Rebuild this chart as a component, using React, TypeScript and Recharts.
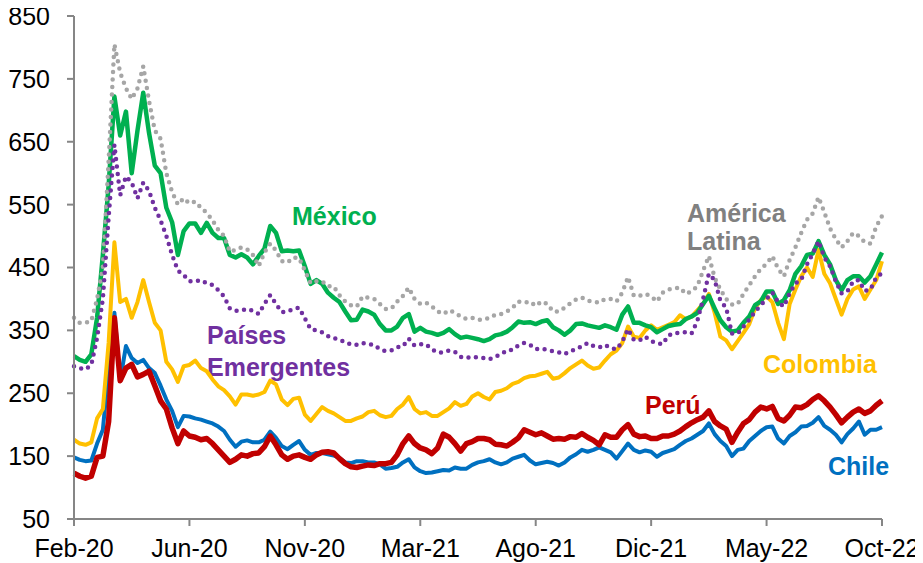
import React from "react";
import { LineChart, Line, XAxis, YAxis } from "recharts";

const xTickLabels = ["Feb-20", "Jun-20", "Nov-20", "Mar-21", "Ago-21", "Dic-21", "May-22", "Oct-22"];
const yTicks = [50, 150, 250, 350, 450, 550, 650, 750, 850];

const chile = [148,144,142,143,170,192,290,378,270,325,306,298,303,290,282,262,240,222,196,214,213,210,208,205,202,197,190,176,165,173,175,172,172,176,189,179,166,161,168,174,160,152,155,155,153,151,147,140,139,142,142,140,140,137,130,131,133,140,145,132,126,123,124,126,128,127,132,130,130,136,140,142,145,140,137,140,146,149,152,143,137,139,141,139,135,140,148,153,160,157,160,164,160,156,146,158,170,160,156,159,157,149,155,158,161,168,174,178,184,190,202,185,174,166,150,160,162,174,182,190,196,197,178,170,182,188,197,198,203,212,198,192,184,172,185,194,205,184,192,192,196];

const peru = [123,118,115,118,148,150,205,370,270,290,296,276,280,285,262,238,225,195,170,190,182,180,176,178,170,160,150,140,145,152,150,154,155,165,182,168,152,145,150,152,148,145,152,156,157,155,146,138,133,132,134,136,135,138,138,140,152,170,182,170,163,160,154,163,185,180,170,158,170,173,178,178,176,169,168,166,172,179,192,188,184,187,182,177,178,177,181,180,186,180,175,168,184,180,180,192,200,185,181,182,178,178,182,182,185,190,197,203,208,212,222,205,198,193,172,188,202,208,220,228,225,229,210,206,215,228,227,232,240,246,238,228,216,203,212,220,225,218,222,231,238];

const colombia = [176,170,168,172,210,225,330,490,395,400,370,395,430,395,362,350,300,288,268,293,295,302,290,285,272,261,255,245,232,248,248,246,248,252,270,264,240,231,241,243,216,206,217,228,222,218,212,206,206,210,213,220,222,215,212,214,225,232,244,225,218,220,214,214,220,226,236,230,233,245,250,244,240,252,254,258,265,268,274,277,278,281,284,273,275,282,290,296,302,294,289,291,302,312,318,330,356,340,338,350,358,351,355,359,363,374,368,372,382,392,408,378,340,334,320,333,346,360,385,398,404,395,362,336,392,415,436,450,435,478,440,425,400,375,400,415,420,400,415,430,460];

const mexico = [309,303,300,312,370,470,580,722,660,698,600,668,728,664,612,600,545,522,470,508,520,520,505,521,505,497,497,470,466,471,466,455,468,480,516,505,476,477,476,477,452,424,430,424,410,402,395,380,366,367,383,380,375,360,350,350,356,370,376,348,354,348,346,343,346,352,344,338,340,338,336,333,336,342,344,348,355,364,362,363,360,364,366,355,350,343,350,360,361,358,356,354,358,355,351,375,388,362,362,358,355,347,352,357,359,360,368,372,378,392,405,385,366,355,348,350,362,372,390,396,412,412,392,398,414,440,452,470,472,492,470,455,430,414,430,436,436,426,436,455,474];

const americaLatina = [370,362,362,365,400,450,620,805,760,735,718,735,770,715,668,655,600,570,550,560,552,555,545,537,525,510,500,475,478,482,479,470,452,474,488,477,460,458,466,465,445,425,428,428,420,420,406,396,390,388,404,402,400,392,384,385,396,405,418,400,392,394,388,380,376,382,378,372,368,370,367,367,370,375,376,380,386,396,394,396,389,396,392,380,380,386,393,399,402,397,396,394,400,400,396,410,435,405,405,408,404,396,410,415,417,418,408,412,420,445,468,434,415,400,391,392,408,422,436,448,456,468,448,436,462,482,505,526,536,562,538,512,495,482,492,505,500,490,488,515,532];

const emergentes = [293,290,288,295,338,400,530,645,565,595,585,560,585,572,545,525,500,470,445,438,428,428,430,425,422,414,404,385,381,382,384,381,376,392,406,392,379,380,384,386,369,352,350,347,341,338,334,332,327,327,330,328,327,320,317,318,323,325,337,326,328,328,320,315,315,318,316,308,306,308,307,306,304,308,312,318,319,326,330,327,320,321,319,317,315,312,317,320,325,330,325,323,327,322,320,332,352,335,334,340,333,330,328,342,346,346,347,345,365,400,440,430,397,386,345,345,356,367,380,390,400,410,395,388,409,425,430,455,472,492,466,452,428,409,412,428,430,413,415,434,441];

const rows = chile.map((v, i) => ({
  i,
  chile: v,
  peru: peru[i],
  colombia: colombia[i],
  mexico: mexico[i],
  americaLatina: americaLatina[i],
  emergentes: emergentes[i],
}));

const xTicks = xTickLabels.map((_, k) => k * 20);
const FONT = "'Liberation Sans', Arial, sans-serif";
const AXIS = "#868686";

export default function App() {
  return (
    <div style={{ width: 923, height: 563, margin: "-8px 0 0 -8px" }}>
      <LineChart
        width={923}
        height={563}
        data={rows}
        margin={{ top: 16, right: 41, bottom: 0, left: 8 }}
        style={{ fontFamily: FONT }}
      >
        <XAxis
          dataKey="i"
          type="number"
          domain={[0, 140]}
          ticks={xTicks}
          interval={0}
          tickFormatter={(v: number) => xTickLabels[Math.round(v / 20)]}
          height={44}
          tickSize={7}
          tickMargin={13}
          axisLine={{ stroke: AXIS, strokeWidth: 2 }}
          tickLine={{ stroke: AXIS, strokeWidth: 2 }}
          tick={{ fill: "#000", fontSize: 25, fontFamily: FONT }}
        />
        <YAxis
          domain={[50, 850]}
          ticks={yTicks}
          interval={0}
          width={66}
          tickSize={7}
          tickMargin={17}
          axisLine={{ stroke: AXIS, strokeWidth: 2 }}
          tickLine={{ stroke: AXIS, strokeWidth: 2 }}
          tick={{ fill: "#000", fontSize: 25, fontFamily: FONT }}
        />
        <Line dataKey="chile" stroke="#0070C0" strokeWidth={4} dot={false} isAnimationActive={false} type="linear" strokeLinejoin="round" />
        <Line dataKey="peru" stroke="#C00000" strokeWidth={5.5} dot={false} isAnimationActive={false} type="linear" strokeLinejoin="round" />
        <Line dataKey="colombia" stroke="#FFC000" strokeWidth={4} dot={false} isAnimationActive={false} type="linear" strokeLinejoin="round" />
        <Line dataKey="mexico" stroke="#00B050" strokeWidth={4.5} dot={false} isAnimationActive={false} type="linear" strokeLinejoin="round" />
        <Line dataKey="americaLatina" stroke="#A6A6A6" strokeWidth={4.5} strokeDasharray="0 7.5" strokeLinecap="round" dot={false} isAnimationActive={false} type="linear" />
        <Line dataKey="emergentes" stroke="#7030A0" strokeWidth={4.5} strokeDasharray="0 7.5" strokeLinecap="round" dot={false} isAnimationActive={false} type="linear" />
        <g style={{ fontFamily: FONT, fontWeight: 700, fontSize: 25 }}>
          <text x={292} y={225} fill="#00B050">México</text>
          <text x={687} y={222} fill="#808080">América</text>
          <text x={687} y={250} fill="#808080">Latina</text>
          <text x={207} y={344} fill="#7030A0">Países</text>
          <text x={207} y={376} fill="#7030A0">Emergentes</text>
          <text x={763} y={373} fill="#FFC000">Colombia</text>
          <text x={645} y={414} fill="#C00000">Perú</text>
          <text x={828} y={475} fill="#0070C0">Chile</text>
        </g>
      </LineChart>
    </div>
  );
}
